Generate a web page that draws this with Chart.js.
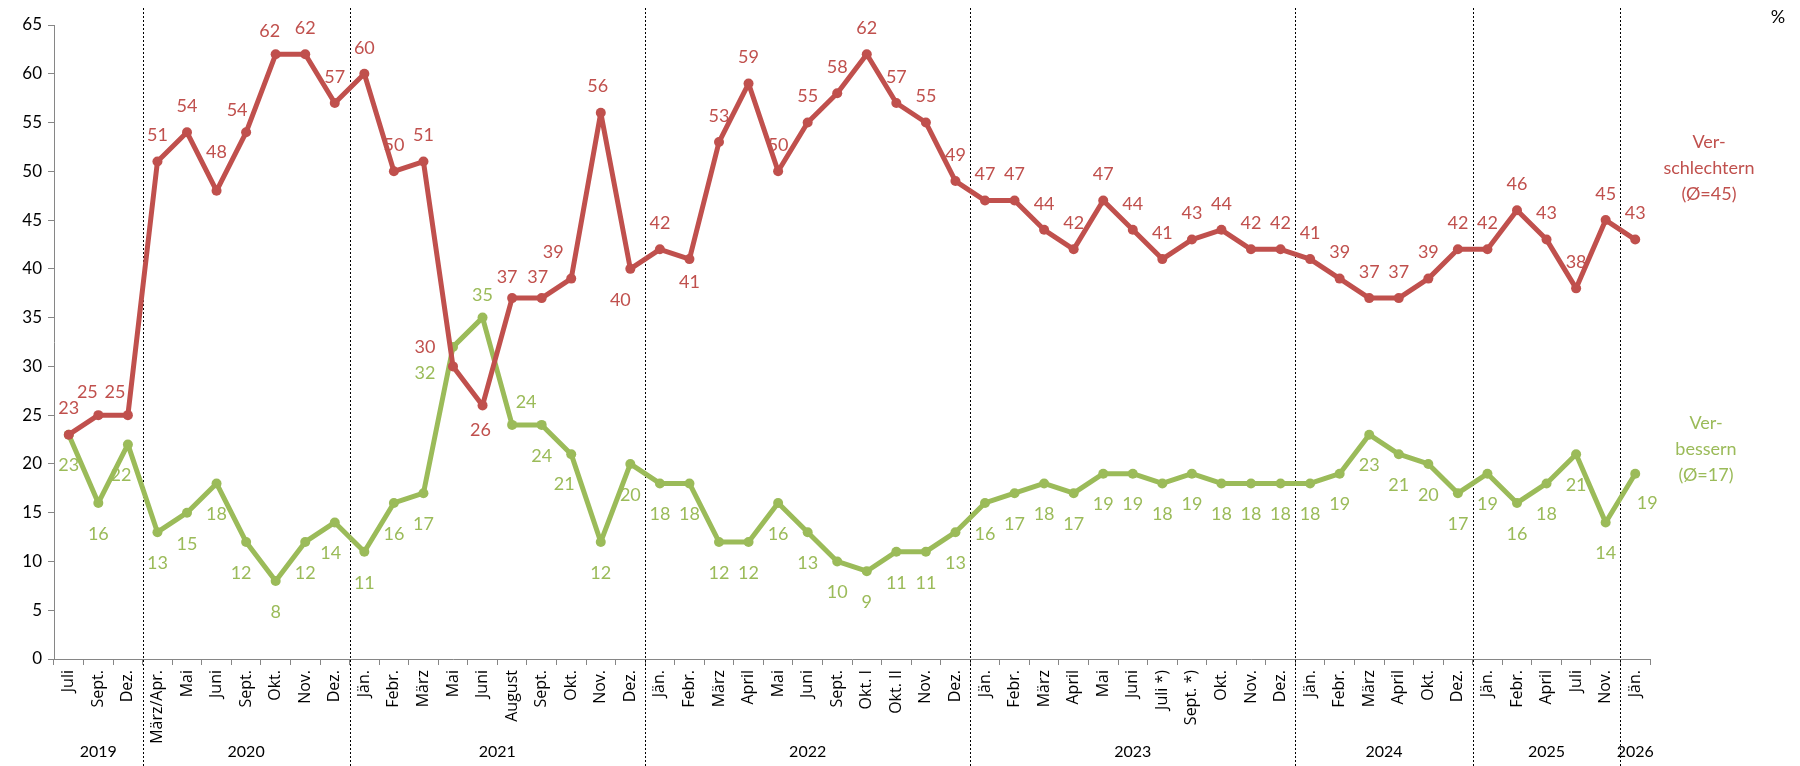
<!DOCTYPE html>
<html>
<head>
<meta charset="utf-8">
<script src="https://cdn.jsdelivr.net/npm/chart.js@4/dist/chart.umd.min.js"></script>
<style>
html,body{margin:0;padding:0;background:#fff;}
#wrap{width:1800px;height:766px;position:relative;}
</style>
</head>
<body>
<div id="wrap"><canvas id="c" width="1800" height="766"></canvas></div>
<script>
// ---- data ----
const categories = [
  'Juli','Sept.','Dez.',
  'März/Apr.','Mai','Juni','Sept.','Okt.','Nov.','Dez.',
  'Jän.','Febr.','März','Mai','Juni','August','Sept.','Okt.','Nov.','Dez.',
  'Jän.','Febr.','März','April','Mai','Juni','Sept.','Okt. I','Okt. II','Nov.','Dez.',
  'Jän.','Febr.','März','April','Mai','Juni','Juli *)','Sept. *)','Okt.','Nov.','Dez.',
  'Jän.','Febr.','März','April','Okt.','Dez.',
  'Jän.','Febr.','April','Juli','Nov.',
  'Jän.'
];
const years = ['2019','2020','2021','2022','2023','2024','2025','2026'];
const yearCounts = [3,7,10,11,11,6,5,1];
const worsen = [
  23,25,25,
  51,54,48,54,62,62,57,
  60,50,51,30,26,37,37,39,56,40,
  42,41,53,59,50,55,58,62,57,55,49,
  47,47,44,42,47,44,41,43,44,42,42,
  41,39,37,37,39,42,
  42,46,43,38,45,
  43
];
const improve = [
  23,16,22,
  13,15,18,12,8,12,14,
  11,16,17,32,35,24,24,21,12,20,
  18,18,12,12,16,13,10,9,11,11,13,
  16,17,18,17,19,19,18,19,18,18,18,
  18,19,23,21,20,17,
  19,16,18,21,14,
  19
];
const yTicks = [0,5,10,15,20,25,30,35,40,45,50,55,60,65];
const seriesNames = [['Ver-','schlechtern','(Ø=45)'], ['Ver-','bessern','(Ø=17)']];

// ---- styles ----
const RED = '#C0504D', GREEN = '#9BBB59', AXIS = '#868686';
const NUMFONT = 'Lato, "Open Sans", sans-serif';

// label placement overrides (index -> offset)
const redOverrides = {
  1:{dx:-11,dy:-23}, 2:{dx:-13,dy:-23}, 5:{dx:0,dy:-39}, 6:{dx:-9,dy:-22}, 7:{dx:-6,dy:-23},
  13:{dx:-28,dy:-19}, 14:{dx:-2,dy:25}, 15:{dx:-5,dy:-21}, 16:{dx:-4,dy:-21},
  17:{dx:-18,dy:-26}, 18:{dx:-3,dy:-27}, 19:{dx:-10,dy:31}, 21:{dx:0,dy:23}
};
const greenOverrides = {2:{dx:-7,dy:31}, 6:{dx:-5,dy:31}, 9:{dx:-4,dy:31}, 13:{dx:-28,dy:26}, 14:{dx:0,dy:-22}, 15:{dx:14,dy:-23}, 17:{dx:-7,dy:30}, 53:{dx:12,dy:30}};

const overlay = {
  id: 'overlay',
  beforeDatasetsDraw(chart){
    const ctx = chart.ctx, xs = chart.scales.x;
    ctx.save();
    ctx.strokeStyle = '#000';
    ctx.lineWidth = 1;
    ctx.setLineDash([2,2]);
    let idx = 0;
    for (let g = 0; g < yearCounts.length - 1; g++) {
      idx += yearCounts[g];
      const x = Math.round((xs.getPixelForValue(idx-1) + xs.getPixelForValue(idx))/2) + 0.5;
      ctx.beginPath(); ctx.moveTo(x, 8); ctx.lineTo(x, 766); ctx.stroke();
    }
    ctx.restore();
  },
  afterDraw(chart){
    const ctx = chart.ctx, xs = chart.scales.x;
    ctx.save();
    // year labels
    ctx.fillStyle = '#000';
    ctx.font = '16px ' + NUMFONT;
    ctx.textAlign = 'center';
    ctx.textBaseline = 'middle';
    let start = 0;
    yearCounts.forEach((n, g) => {
      const a = xs.getPixelForValue(start), b = xs.getPixelForValue(start + n - 1);
      ctx.fillText(years[g], (a + b)/2, 752);
      start += n;
    });
    // data labels
    ctx.font = '18px ' + NUMFONT;
    const drawLabels = (dsIndex, values, color, defDy, ov) => {
      const meta = chart.getDatasetMeta(dsIndex);
      ctx.fillStyle = color;
      meta.data.forEach((pt, i) => {
        const o = ov[i] || {dx:0, dy:defDy};
        ctx.fillText(String(values[i]), pt.x + o.dx, pt.y + o.dy);
      });
    };
    drawLabels(0, worsen, RED, -26, redOverrides);
    drawLabels(1, improve, GREEN, 31, greenOverrides);
    // series names
    ctx.font = '18px ' + NUMFONT;
    ctx.fillStyle = RED;
    [142,168,194].forEach((y,i) => ctx.fillText(seriesNames[0][i], 1709, y));
    ctx.fillStyle = GREEN;
    [423,449,475].forEach((y,i) => ctx.fillText(seriesNames[1][i], 1706, y));
    // unit
    ctx.fillStyle = '#000';
    ctx.fillText('%', 1778, 17);
    ctx.restore();
  }
};

new Chart(document.getElementById('c'), {
  type: 'line',
  data: {
    labels: categories,
    datasets: [
      { label: 'Verschlechtern', data: worsen, borderColor: RED, backgroundColor: RED,
        borderWidth: 5, borderJoinStyle: 'round', borderCapStyle: 'round',
        pointRadius: 5, pointBackgroundColor: RED, pointBorderWidth: 0, tension: 0 },
      { label: 'Verbessern', data: improve, borderColor: GREEN, backgroundColor: GREEN,
        borderWidth: 5, borderJoinStyle: 'round', borderCapStyle: 'round',
        pointRadius: 5, pointBackgroundColor: GREEN, pointBorderWidth: 0, tension: 0 }
    ]
  },
  options: {
    responsive: false,
    animation: false,
    devicePixelRatio: 1,
    layout: { padding: { top: 25, right: 150, left: 0, bottom: 0 } },
    plugins: { legend: { display: false }, tooltip: { enabled: false } },
    scales: {
      x: {
        type: 'category',
        offset: true,
        grid: { offset: true, drawOnChartArea: false, drawTicks: true, tickLength: 6, color: AXIS },
        border: { color: AXIS, width: 1 },
        ticks: { autoSkip: false, minRotation: 90, maxRotation: 90, padding: 5,
                 color: '#000', font: { family: '"Open Sans", sans-serif', size: 16 } },
        afterFit(scale){ scale.height = 107; }
      },
      y: {
        min: 0, max: 65,
        afterBuildTicks(scale){ scale.ticks = yTicks.map(v => ({value: v})); },
        grid: { drawOnChartArea: false, drawTicks: true, tickLength: 6, color: AXIS },
        border: { color: AXIS, width: 1 },
        ticks: { stepSize: 5, padding: 6, color: '#000', font: { family: NUMFONT, size: 17 } },
        afterFit(scale){ scale.width = 54; }
      }
    }
  },
  plugins: [overlay]
});
</script>
</body>
</html>
